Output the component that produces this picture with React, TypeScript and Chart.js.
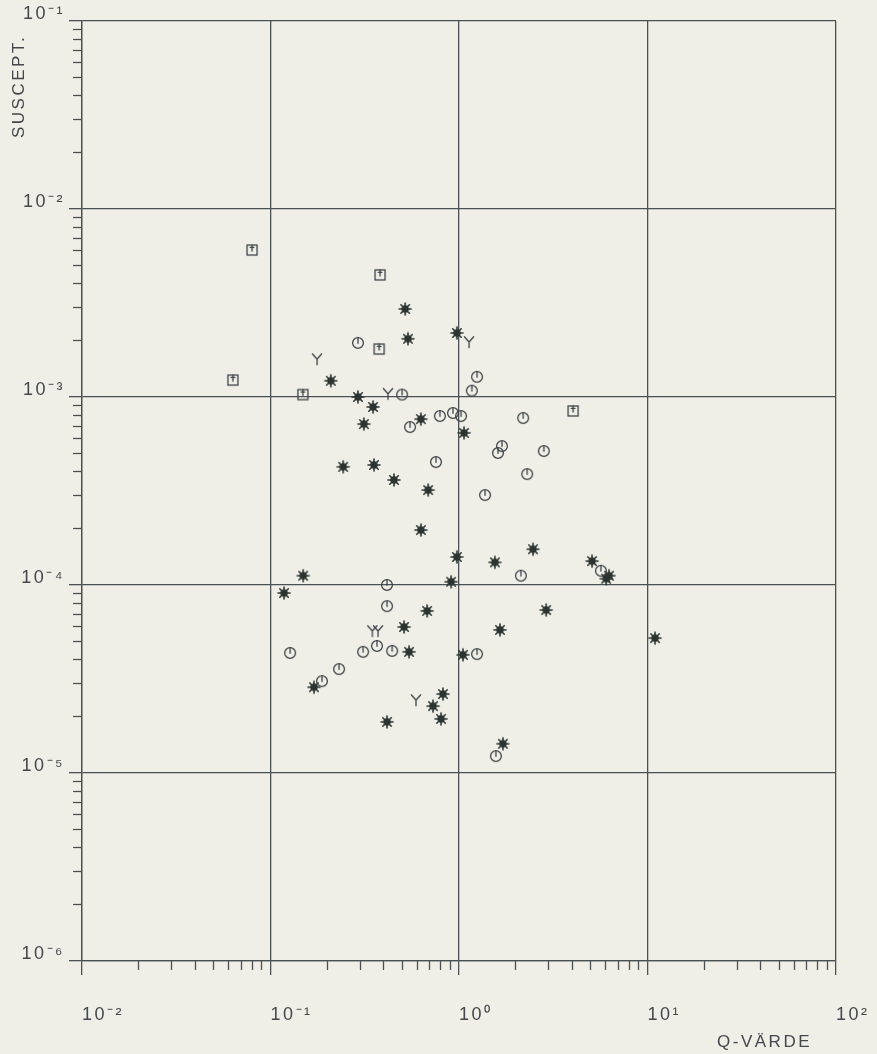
import React, { useEffect, useRef } from 'react';
import { Chart, registerables } from 'chart.js';

Chart.register(...registerables);

const W = 877;
const H = 1054;
const BG = '#efefe7';
const LINE = '#4b5055';
const INK = '#3e4347';
const STAR_INK = '#2c3431';
const TEXT = '#44484c';
const FONT = 'Liberation Sans';

const X_MIN = 0.01;
const X_MAX = 100;
const Y_MIN = 1e-6;
const Y_MAX = 1e-1;
const X_TICKS = [0.01, 0.1, 1, 10, 100];
const X_TICK_LABELS = ['10⁻²', '10⁻¹', '10⁰', '10¹', '10²'];
const Y_TICKS = [1e-6, 1e-5, 1e-4, 1e-3, 1e-2, 1e-1];
const Y_TICK_LABELS = ['10⁻⁶', '10⁻⁵', '10⁻⁴', '10⁻³', '10⁻²', '10⁻¹'];
const MINOR_STEPS = [2, 3, 4, 5, 6, 7, 8, 9];
const X_TITLE = 'Q-VÄRDE';
const Y_TITLE = 'SUSCEPT.';

// Square markers
const SQUARE_Q = [0.0798, 0.381, 0.377, 0.0632, 0.1486, 4.03];
const SQUARE_S = [6.05e-3, 4.46e-3, 1.8e-3, 1.23e-3, 1.03e-3, 8.43e-4];

// "Y" markers
const YMARK_Q = [0.1766, 0.42, 1.13, 0.347, 0.372, 0.591];
const YMARK_S = [1.59e-3, 1.04e-3, 1.96e-3, 5.69e-5, 5.69e-5, 2.44e-5];

// Circle markers
const CIRCLE_Q = [
  0.291, 0.499, 0.55, 0.792, 0.929, 1.025, 1.17, 1.246, 2.19, 1.69, 1.61, 2.82, 2.3, 1.374,
  0.755, 2.13, 5.66, 0.415, 0.415, 0.367, 0.31, 0.442, 0.127, 0.231, 0.1875, 1.246, 1.57,
];
const CIRCLE_S = [
  1.94e-3, 1.03e-3, 6.92e-4, 7.92e-4, 8.22e-4, 7.92e-4, 1.08e-3, 1.28e-3, 7.73e-4, 5.48e-4,
  5.04e-4, 5.16e-4, 3.89e-4, 3.01e-4, 4.51e-4, 1.12e-4, 1.19e-4, 1.0e-4, 7.72e-5, 4.74e-5,
  4.41e-5, 4.46e-5, 4.35e-5, 3.57e-5, 3.08e-5, 4.29e-5, 1.23e-5,
];

// Asterisk markers
const STAR_Q = [
  0.518, 0.536, 0.975, 0.209, 0.291, 0.35, 0.313, 0.628, 1.063, 0.243, 0.354, 0.452, 0.686,
  0.628, 0.975, 1.55, 2.47, 5.08, 6.03, 6.25, 2.9, 10.96, 0.149, 0.118, 0.908, 0.677, 0.511,
  0.543, 1.05, 0.17, 0.822, 0.728, 0.803, 0.415, 1.65, 1.71,
];
const STAR_S = [
  2.94e-3, 2.04e-3, 2.19e-3, 1.22e-3, 1.0e-3, 8.85e-4, 7.18e-4, 7.63e-4, 6.44e-4, 4.25e-4,
  4.35e-4, 3.62e-4, 3.2e-4, 1.96e-4, 1.41e-4, 1.32e-4, 1.55e-4, 1.34e-4, 1.08e-4, 1.12e-4,
  7.36e-5, 5.22e-5, 1.12e-4, 9.06e-5, 1.04e-4, 7.28e-5, 5.98e-5, 4.41e-5, 4.25e-5, 2.86e-5,
  2.63e-5, 2.27e-5, 1.94e-5, 1.87e-5, 5.77e-5, 1.43e-5,
];

const minorTicks = (decades: number[]) =>
  decades.slice(0, -1).flatMap((d) => MINOR_STEPS.map((m) => m * d));
const X_MINOR = minorTicks(X_TICKS);
const Y_MINOR = minorTicks(Y_TICKS);

const zip = (xs: number[], ys: number[]) => xs.map((x, i) => ({ x, y: ys[i] }));

const labelFor = (ticks: number[], labels: string[]) => (v: any) => {
  const val = Number(v);
  const i = ticks.findIndex((t) => Math.abs(Math.log10(t) - Math.log10(val)) < 1e-6);
  return i >= 0 ? labels[i] : '';
};

function makeMarker(kind: string): HTMLCanvasElement {
  const c = document.createElement('canvas');
  c.width = 16;
  c.height = 16;
  const g = c.getContext('2d')!;
  g.strokeStyle = INK;
  g.fillStyle = STAR_INK;
  g.lineWidth = 1.3;
  g.lineCap = 'round';
  const m = 8;
  if (kind === 'square') {
    g.strokeRect(m - 5, m - 5, 10, 10);
    g.beginPath();
    g.moveTo(m, m - 5);
    g.lineTo(m, m + 1);
    g.moveTo(m - 1.8, m - 2.6);
    g.lineTo(m + 1.8, m - 2.6);
    g.stroke();
  } else if (kind === 'circle') {
    g.beginPath();
    g.arc(m, m, 5.4, 0, Math.PI * 2);
    g.stroke();
    g.beginPath();
    g.moveTo(m, m - 5.4);
    g.lineTo(m, m + 0.3);
    g.stroke();
  } else if (kind === 'y') {
    g.beginPath();
    g.moveTo(m - 4.6, m - 5.2);
    g.lineTo(m, m);
    g.lineTo(m + 4.6, m - 5.2);
    g.moveTo(m, m);
    g.lineTo(m, m + 5.6);
    g.stroke();
  } else {
    g.strokeStyle = STAR_INK;
    g.lineWidth = 1.6;
    g.beginPath();
    for (let k = 0; k < 4; k++) {
      const a = (k * Math.PI) / 4;
      const dx = Math.cos(a) * 6;
      const dy = Math.sin(a) * 6;
      g.moveTo(m - dx, m - dy);
      g.lineTo(m + dx, m + dy);
    }
    g.stroke();
    g.beginPath();
    g.arc(m, m, 3.7, 0, Math.PI * 2);
    g.fill();
  }
  return c;
}

const tickFont = { family: FONT, size: 18 };

export default function App() {
  const ref = useRef<HTMLCanvasElement | null>(null);

  useEffect(() => {
    document.body.style.margin = '0';
    document.body.style.background = BG;
    const canvas = ref.current!;
    const markers = {
      square: makeMarker('square'),
      circle: makeMarker('circle'),
      y: makeMarker('y'),
      star: makeMarker('star'),
    };

    const bgPlugin = {
      id: 'paper',
      beforeDraw(chart: any) {
        const ctx = chart.ctx;
        ctx.save();
        ctx.fillStyle = BG;
        ctx.fillRect(0, 0, chart.width, chart.height);
        ctx.restore();
        ctx.letterSpacing = '2.5px';
      },
      afterDraw(chart: any) {
        const ctx = chart.ctx;
        ctx.save();
        ctx.fillStyle = TEXT;
        ctx.font = `17px "${FONT}"`;
        ctx.letterSpacing = '2.5px';
        ctx.textBaseline = 'alphabetic';
        ctx.textAlign = 'right';
        ctx.fillText(X_TITLE, 812, 1047);
        ctx.translate(24, 138);
        ctx.rotate(-Math.PI / 2);
        ctx.textAlign = 'left';
        ctx.fillText(Y_TITLE, 0, 0);
        ctx.restore();
      },
    };

    const ds = (label: string, q: number[], s: number[], style: HTMLCanvasElement) => ({
      label,
      data: zip(q, s),
      pointStyle: style,
      pointRadius: 5,
      pointHoverRadius: 5,
    });

    const noPad = (s: any) => {
      s.paddingLeft = 0;
      s.paddingRight = 0;
      s.paddingTop = 0;
      s.paddingBottom = 0;
    };

    const chart = new Chart(canvas, {
      type: 'scatter',
      data: {
        datasets: [
          ds('circle', CIRCLE_Q, CIRCLE_S, markers.circle),
          ds('square', SQUARE_Q, SQUARE_S, markers.square),
          ds('Y', YMARK_Q, YMARK_S, markers.y),
          ds('star', STAR_Q, STAR_S, markers.star),
        ],
      },
      options: {
        animation: false,
        responsive: false,
        devicePixelRatio: 1,
        layout: { padding: { top: 21, right: 41, left: 0, bottom: 0 } },
        plugins: { legend: { display: false }, tooltip: { enabled: false } },
        scales: {
          x: {
            type: 'logarithmic',
            position: 'bottom',
            min: X_MIN,
            max: X_MAX,
            weight: 1,
            afterBuildTicks: (s: any) => {
              s.ticks = X_TICKS.map((value) => ({ value, major: false }));
            },
            afterFit: (s: any) => {
              s.height = H - 961;
              noPad(s);
            },
            grid: { color: LINE, lineWidth: 1.3, tickLength: 14, tickColor: LINE, tickWidth: 1.3 },
            border: { display: true, color: LINE, width: 1.3 },
            ticks: {
              autoSkip: false,
              maxRotation: 0,
              minRotation: 0,
              align: 'start',
              padding: 29,
              color: TEXT,
              font: tickFont,
              callback: labelFor(X_TICKS, X_TICK_LABELS),
            },
          },
          x2: {
            type: 'logarithmic',
            position: 'bottom',
            min: X_MIN,
            max: X_MAX,
            weight: 0,
            afterBuildTicks: (s: any) => {
              s.ticks = X_MINOR.map((value) => ({ value, major: false }));
            },
            afterFit: (s: any) => {
              s.height = 0;
              noPad(s);
            },
            grid: { drawOnChartArea: false, color: LINE, tickLength: 9, tickColor: LINE, tickWidth: 1.3 },
            border: { display: false },
            ticks: { display: false, autoSkip: false },
          },
          y: {
            type: 'logarithmic',
            position: 'left',
            min: Y_MIN,
            max: Y_MAX,
            weight: 1,
            afterBuildTicks: (s: any) => {
              s.ticks = Y_TICKS.map((value) => ({ value, major: false }));
            },
            afterFit: (s: any) => {
              s.width = 82;
              noPad(s);
            },
            grid: { color: LINE, lineWidth: 1.3, tickLength: 13, tickColor: LINE, tickWidth: 1.3 },
            border: { display: true, color: LINE, width: 1.3 },
            ticks: {
              autoSkip: false,
              padding: 4,
              labelOffset: -7,
              color: TEXT,
              font: tickFont,
              callback: labelFor(Y_TICKS, Y_TICK_LABELS),
            },
          },
          y2: {
            type: 'logarithmic',
            position: 'left',
            min: Y_MIN,
            max: Y_MAX,
            weight: 0,
            afterBuildTicks: (s: any) => {
              s.ticks = Y_MINOR.map((value) => ({ value, major: false }));
            },
            afterFit: (s: any) => {
              s.width = 0;
              noPad(s);
            },
            grid: { drawOnChartArea: false, color: LINE, tickLength: 9, tickColor: LINE, tickWidth: 1.3 },
            border: { display: false },
            ticks: { display: false, autoSkip: false },
          },
        },
      } as any,
      plugins: [bgPlugin],
    });

    return () => chart.destroy();
  }, []);

  return (
    <div style={{ position: 'absolute', left: 0, top: 0, width: W, height: H, background: BG }}>
      <canvas ref={ref} width={W} height={H} style={{ display: 'block', width: W, height: H }} />
    </div>
  );
}
